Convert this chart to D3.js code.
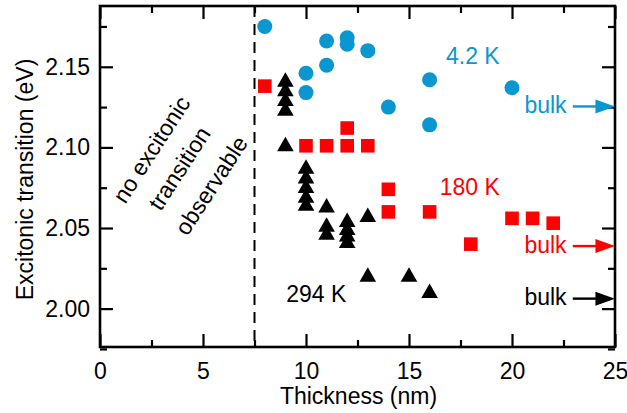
<!DOCTYPE html>
<html>
<head>
<meta charset="utf-8">
<script src="https://cdn.jsdelivr.net/npm/d3@7"></script>
<style>
  body { margin: 0; background: #fff; }
  svg { display: block; font-family: "Liberation Sans", Arial, sans-serif; }
</style>
</head>
<body>
<svg id="chart" width="627" height="413"></svg>
<script>
// 4.2 K (blue circles)
const thick4K = [8, 10, 10, 11, 11, 12, 12, 13, 14, 16, 16, 20];
const energy4K = [2.175, 2.146, 2.134, 2.166, 2.151, 2.168, 2.164, 2.160, 2.125, 2.142, 2.114, 2.137];

// 180 K (red squares)
const thick180K = [8, 10, 11, 12, 13, 12, 14, 14, 16, 18, 20, 21, 22];
const energy180K = [2.138, 2.101, 2.101, 2.101, 2.101, 2.112, 2.074, 2.060, 2.060, 2.040, 2.056, 2.056, 2.053];

// 294 K (black triangles)
const thick294K = [9, 9, 9, 9, 9, 10, 10, 10, 10, 10, 11, 11, 11, 12, 12, 12, 12, 13, 13, 15, 16];
const energy294K = [2.142, 2.136, 2.130, 2.124, 2.102, 2.088, 2.082, 2.076, 2.070, 2.065,
  2.064, 2.052, 2.047, 2.055, 2.050, 2.046, 2.042, 2.058, 2.021, 2.021, 2.011];

// bulk values (arrows at the right edge)
const bulkEnergy = [2.1254, 2.0388, 2.0062];
const seriesNames = ['4.2 K', '180 K', '294 K'];
const seriesColors = ['#0a97d0', '#ff0000', '#000000'];

const xTicks = [0, 5, 10, 15, 20, 25];
const yTicks = [2.00, 2.05, 2.10, 2.15];

const svg = d3.select('#chart');
const width = +svg.attr('width');
const height = +svg.attr('height');
const margin = { top: 6, right: 12, bottom: 66, left: 100 };
const innerWidth = width - margin.left - margin.right;
const innerHeight = height - margin.top - margin.bottom;

const xScale = d3.scaleLinear().domain([0, 25]).range([0, innerWidth]);
const yScale = d3.scaleLinear().domain([1.9762, 2.1877]).range([innerHeight, 0]);

const fontSize = 23;
const fontFamily = '"Liberation Sans", Arial, sans-serif';

const g = svg.append('g')
    .attr('transform', `translate(${margin.left}, ${margin.top})`)
    .attr('font-size', fontSize)
    .attr('font-family', fontFamily);

// minor ticks on all four sides
const xMinor = d3.range(2.5, 25, 5);
const yMinor = [1.975, 2.025, 2.075, 2.125, 2.175];

function styleAxis(sel) {
    sel.attr('font-size', fontSize).attr('font-family', fontFamily);
    sel.select('.domain').remove();
    sel.selectAll('line').attr('stroke', '#000').attr('stroke-width', 2.2);
    sel.selectAll('text').filter(function() { return !this.textContent; }).remove();
    sel.selectAll('text').attr('fill', '#000');
}

// bottom
g.append('g')
    .attr('transform', `translate(0, ${innerHeight})`)
    .call(d3.axisBottom(xScale).tickValues(xTicks).tickSize(-13).tickPadding(16).tickFormat(d3.format('d')))
    .call(styleAxis);
g.append('g')
    .attr('transform', `translate(0, ${innerHeight})`)
    .call(d3.axisBottom(xScale).tickValues(xMinor).tickSize(-7).tickFormat(''))
    .call(styleAxis);
// top
g.append('g')
    .call(d3.axisTop(xScale).tickValues(xTicks).tickSize(-13).tickFormat(''))
    .call(styleAxis);
g.append('g')
    .call(d3.axisTop(xScale).tickValues(xMinor).tickSize(-7).tickFormat(''))
    .call(styleAxis);
// left
g.append('g')
    .call(d3.axisLeft(yScale).tickValues(yTicks).tickSize(-13).tickPadding(10).tickFormat(d3.format('.2f')))
    .call(styleAxis);
g.append('g')
    .call(d3.axisLeft(yScale).tickValues(yMinor).tickSize(-7).tickFormat(''))
    .call(styleAxis);
// right
g.append('g')
    .attr('transform', `translate(${innerWidth}, 0)`)
    .call(d3.axisRight(yScale).tickValues(yTicks).tickSize(-13).tickFormat(''))
    .call(styleAxis);
g.append('g')
    .attr('transform', `translate(${innerWidth}, 0)`)
    .call(d3.axisRight(yScale).tickValues(yMinor).tickSize(-7).tickFormat(''))
    .call(styleAxis);

// frame
g.append('rect')
    .attr('width', innerWidth)
    .attr('height', innerHeight)
    .attr('fill', 'none')
    .attr('stroke', '#000')
    .attr('stroke-width', 2.6);

// axis titles
g.append('text')
    .attr('x', innerWidth / 2 + 1)
    .attr('y', innerHeight + 57)
    .attr('text-anchor', 'middle')
    .text('Thickness (nm)');

g.append('text')
    .attr('transform', `translate(${-67}, ${innerHeight / 2 + 3}) rotate(-90)`)
    .attr('text-anchor', 'middle')
    .text('Excitonic transition (eV)');

// dashed limit line
g.append('line')
    .attr('x1', xScale(7.5)).attr('x2', xScale(7.5))
    .attr('y1', 0).attr('y2', innerHeight)
    .attr('stroke', '#000')
    .attr('stroke-width', 2)
    .attr('stroke-dasharray', '11,7');

// rotated note
const note = ['no excitonic', 'transition', 'observable'];
const notePos = [[2.5, 2.0988], [3.85, 2.087], [5.4, 2.0764]];
g.append('g')
    .selectAll('text')
    .data(note)
    .join('text')
    .attr('transform', (d, i) => `translate(${xScale(notePos[i][0])}, ${yScale(notePos[i][1])}) rotate(-57)`)
    .attr('text-anchor', 'middle')
    .attr('dy', '0.35em')
    .text(d => d);

// markers
const toPoints = (xs, ys) => xs.map((x, i) => ({ x, y: ys[i] }));

g.append('g')
    .selectAll('circle')
    .data(toPoints(thick4K, energy4K))
    .join('circle')
    .attr('cx', d => xScale(d.x))
    .attr('cy', d => yScale(d.y))
    .attr('r', 7.5)
    .attr('fill', seriesColors[0]);

g.append('g')
    .selectAll('rect')
    .data(toPoints(thick180K, energy180K))
    .join('rect')
    .attr('x', d => xScale(d.x) - 6.8)
    .attr('y', d => yScale(d.y) - 6.8)
    .attr('width', 13.6)
    .attr('height', 13.6)
    .attr('fill', seriesColors[1]);

g.append('g')
    .selectAll('path')
    .data(toPoints(thick294K, energy294K))
    .join('path')
    .attr('transform', d => `translate(${xScale(d.x)}, ${yScale(d.y)})`)
    .attr('d', 'M0,-7.5L8.3,7L-8.3,7Z')
    .attr('fill', seriesColors[2]);

// series labels
const labelPos = [[18.1, 2.152], [17.95, 2.0707], [10.5, 2.0041]];
g.append('g')
    .selectAll('text')
    .data(seriesNames)
    .join('text')
    .attr('x', (d, i) => xScale(labelPos[i][0]))
    .attr('y', (d, i) => yScale(labelPos[i][1]))
    .attr('text-anchor', 'middle')
    .attr('fill', (d, i) => seriesColors[i])
    .text(d => d);

// bulk arrows
const bulk = g.append('g')
    .selectAll('g')
    .data(bulkEnergy)
    .join('g')
    .attr('transform', d => `translate(0, ${yScale(d)})`);

bulk.append('text')
    .attr('x', xScale(22.65))
    .attr('y', 6.5)
    .attr('text-anchor', 'end')
    .attr('fill', (d, i) => seriesColors[i])
    .text('bulk');

bulk.append('line')
    .attr('x1', xScale(22.95))
    .attr('x2', xScale(24.1))
    .attr('stroke', (d, i) => seriesColors[i])
    .attr('stroke-width', 2.4);

bulk.append('path')
    .attr('d', `M${xScale(24.05)},-7L${xScale(25)},0L${xScale(24.05)},7Z`)
    .attr('fill', (d, i) => seriesColors[i]);
</script>
</body>
</html>
